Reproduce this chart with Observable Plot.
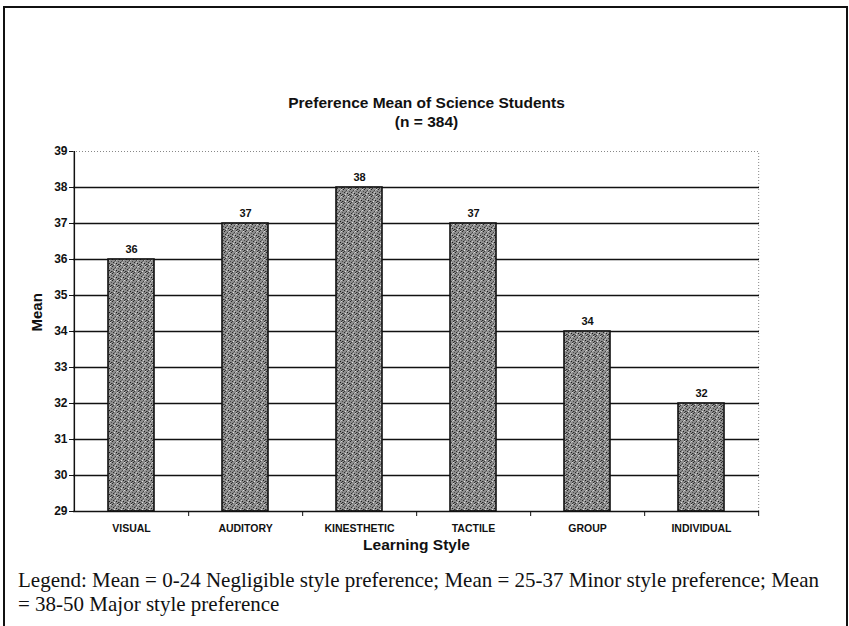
<!DOCTYPE html>
<html>
<head>
<meta charset="utf-8">
<script src="https://cdn.jsdelivr.net/npm/d3@7"></script>
<script src="https://cdn.jsdelivr.net/npm/@observablehq/plot@0.6"></script>
<style>
  html, body { margin: 0; padding: 0; background: #fff; }
  #wrap { position: relative; width: 849px; height: 626px; overflow: hidden; background: #fff; }
  #frame { position: absolute; left: 3px; top: 6px; width: 841px; height: 630px;
           border-left: 2px solid #111; border-top: 2px solid #111; border-right: 2px solid #111; }
  #chart { position: absolute; left: 0; top: 0; }
  #legend { position: absolute; left: 18px; top: 568px; width: 825px;
            font-family: "Liberation Serif", "Times New Roman", serif; font-size: 21px;
            line-height: 24px; color: #111; white-space: nowrap; }
</style>
</head>
<body>
<div id="wrap">
  <div id="frame"></div>
  <div id="chart"></div>
  <div id="legend">Legend: Mean = 0-24 Negligible style preference; Mean = 25-37 Minor style preference; Mean<br>= 38-50 Major style preference</div>
</div>
<script>
const categories = ["VISUAL", "AUDITORY", "KINESTHETIC", "TACTILE", "GROUP", "INDIVIDUAL"];
const means = [36, 37, 38, 37, 34, 32];
const yTicks = [29, 30, 31, 32, 33, 34, 35, 36, 37, 38, 39];
const gridValues = [30, 31, 32, 33, 34, 35, 36, 37, 38];
const titleLines = ["Preference Mean of Science Students", "(n = 384)"];
const xLabel = "Learning Style";
const yLabel = "Mean";

const data = categories.map((c, i) => ({category: c, mean: means[i]}));
const yMin = yTicks[0], yMax = yTicks[yTicks.length - 1];

const W = 849, H = 560, mL = 73, mR = 90, mT = 151, mB = 49;
const step = (W - mL - mR) / categories.length;
const half = step / 2;
const tickLen = 5 * (yMax - yMin) / (H - mT - mB);

const chart = Plot.plot({
  width: W, height: H,
  marginLeft: mL, marginRight: mR, marginTop: mT, marginBottom: mB,
  style: {fontFamily: "'Liberation Sans', Arial, sans-serif", fontWeight: "bold", color: "#111", background: "transparent"},
  x: {domain: categories, paddingInner: 0.6, paddingOuter: 0.3, label: null},
  y: {domain: [yMin, yMax], label: null},
  marks: [
    Plot.ruleY(gridValues, {stroke: "#111", strokeWidth: 1.6}),
    Plot.ruleY([yMax], {stroke: "#888", strokeDasharray: "1,2", strokeWidth: 1}),
    Plot.ruleX([categories[categories.length - 1]], {x: d => d, dx: half, y1: yMin, y2: yMax, stroke: "#888", strokeDasharray: "1,2", strokeWidth: 1}),
    Plot.barY(data, {x: "category", y1: yMin, y2: "mean", fill: "url(#speck)", stroke: "#111", strokeWidth: 1.6}),
    Plot.ruleX([categories[0]], {x: d => d, dx: -half, y1: yMin, y2: yMax, stroke: "#111", strokeWidth: 1.5}),
    Plot.ruleY([yMin], {stroke: "#111", strokeWidth: 1.5}),
    Plot.ruleX(categories, {x: d => d, dx: half, y1: yMin, y2: yMin - tickLen, stroke: "#111", strokeWidth: 1}),
    Plot.axisY({ticks: yTicks, tickSize: 4, tickPadding: 2, fontSize: 12, label: null, tickFormat: d => d}),
    Plot.axisX({tickSize: 0, tickPadding: 13, fontSize: 10.5, label: null}),
    Plot.text(data, {x: "category", y: "mean", text: d => String(d.mean), dy: -10, fontSize: 11}),
    Plot.text([yLabel], {frameAnchor: "left", dx: -36, rotate: -90, fontSize: 15}),
    Plot.text([xLabel], {frameAnchor: "bottom", dy: 38, fontSize: 15.5}),
    Plot.text([titleLines[0]], {frameAnchor: "top", dx: 10, dy: -55, fontSize: 15.5}),
    Plot.text([titleLines[1]], {frameAnchor: "top", dx: 10, dy: -36, fontSize: 15.5})
  ]
});

const ns = "http://www.w3.org/2000/svg";
const defs = document.createElementNS(ns, "defs");
const pat = document.createElementNS(ns, "pattern");
pat.setAttribute("id", "speck");
pat.setAttribute("width", "7");
pat.setAttribute("height", "7");
pat.setAttribute("patternUnits", "userSpaceOnUse");
const base = document.createElementNS(ns, "rect");
base.setAttribute("width", "7"); base.setAttribute("height", "7"); base.setAttribute("fill", "#8e8e8e");
pat.appendChild(base);
const dots = [[0,0,"#222"],[3,1,"#444"],[5,0,"#d8d8d8"],[1,3,"#2a2a2a"],[4,4,"#1a1a1a"],[6,2,"#4d4d4d"],[2,5,"#dedede"],[5,6,"#333"],[0,5,"#5a5a5a"],[3,3,"#c8c8c8"],[6,5,"#2a2a2a"],[2,2,"#606060"],[1,6,"#3a3a3a"],[4,1,"#b8b8b8"]];
for (const [x, y, c] of dots) {
  const r = document.createElementNS(ns, "rect");
  r.setAttribute("x", x); r.setAttribute("y", y); r.setAttribute("width", "1"); r.setAttribute("height", "1"); r.setAttribute("fill", c);
  pat.appendChild(r);
}
defs.appendChild(pat);
chart.insertBefore(defs, chart.firstChild);

document.getElementById("chart").appendChild(chart);
</script>
</body>
</html>
